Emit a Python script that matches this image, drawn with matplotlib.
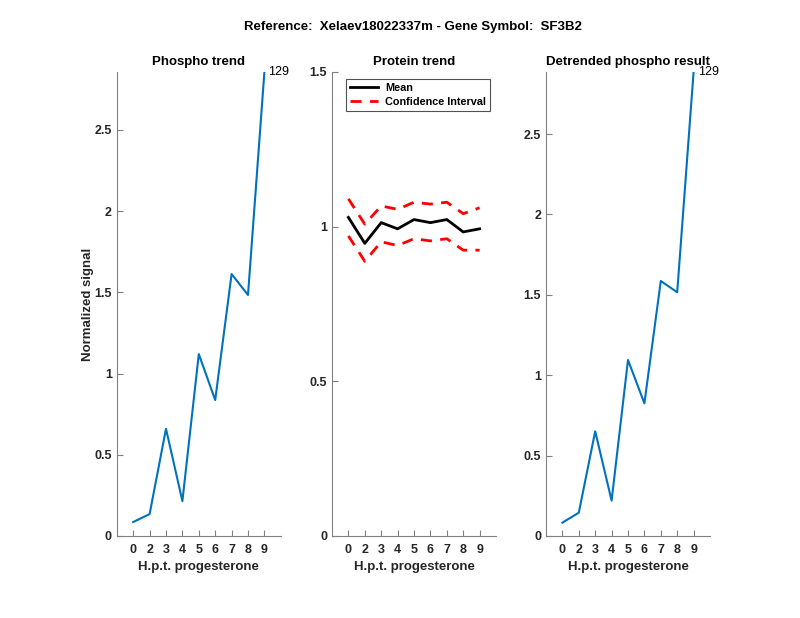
import numpy as np
import matplotlib.pyplot as plt

plt.rcParams['font.family'] = ['Liberation Sans', 'DejaVu Sans']

# time points (categorical positions 1..9)
tick_labels = ['0', '2', '3', '4', '5', '6', '7', '8', '9']
pos = np.arange(1, 10)

phospho = [0.086, 0.135, 0.66, 0.215, 1.12, 0.837, 1.613, 1.484, 2.857]
prot_mean = [1.030, 0.946, 1.013, 0.993, 1.023, 1.013, 1.023, 0.983, 0.993]
prot_upper = [1.090, 1.008, 1.067, 1.056, 1.079, 1.073, 1.079, 1.042, 1.061]
prot_lower = [0.970, 0.888, 0.951, 0.939, 0.961, 0.954, 0.961, 0.924, 0.924]
detrended = [0.083, 0.145, 0.651, 0.220, 1.095, 0.825, 1.586, 1.516, 2.886]

peak_label = '129'
blue = '#0072BD'
axcol = '#262626'

fig = plt.figure(figsize=(8, 6.18), dpi=100)
lefts = [0.146, 0.415, 0.6825]
axes = [fig.add_axes([l, 0.1327, 0.205, 0.7508]) for l in lefts]

for ax in axes:
    ax.spines['top'].set_visible(False)
    ax.spines['right'].set_visible(False)
    for s in ('left', 'bottom'):
        ax.spines[s].set_color('#808080')
    ax.tick_params(direction='in', length=4, colors='#808080', labelcolor=axcol,
                   labelsize=9)
    ax.tick_params(axis='x', pad=6)
    ax.set_xlim(0, 10)
    ax.set_xticks(pos)
    ax.set_xticklabels(tick_labels, fontweight='bold')
    ax.set_xlabel('H.p.t. progesterone', fontsize=9.5, fontweight='bold', color=axcol,
                  labelpad=3.5)

# panel 1
ax = axes[0]
ax.plot(pos, phospho, color=blue, lw=1.5)
ax.set_ylim(0, max(phospho))
ax.set_yticks([0, 0.5, 1, 1.5, 2, 2.5])
ax.set_yticklabels(['0', '0.5', '1', '1.5', '2', '2.5'], fontweight='bold')
ax.set_title('Phospho trend', fontsize=9.5, fontweight='bold', color='black', pad=5)
ax.set_ylabel('Normalized signal', fontsize=9.5, fontweight='bold', color=axcol,
              labelpad=0.5)
ax.text(pos[-1] + 0.25, phospho[-1], peak_label, fontsize=9, va='center', color='black')

# panel 2
ax = axes[1]
ax.plot(pos, prot_mean, color='black', lw=2, label='Mean')
ax.plot(pos, prot_upper, color='red', lw=2, ls=(0, (4, 3)), label='Confidence Interval')
ax.plot(pos, prot_lower, color='red', lw=2, ls=(0, (4, 3)))
ax.set_ylim(0, 1.5)
ax.set_yticks([0, 0.5, 1, 1.5])
ax.set_yticklabels(['0', '0.5', '1', '1.5'], fontweight='bold')
ax.set_title('Protein trend', fontsize=9.5, fontweight='bold', color='black', pad=5)
leg = ax.legend(loc='upper left', bbox_to_anchor=(0.085, 0.985),
                frameon=True, fancybox=False, edgecolor=axcol, handlelength=2.6,
                borderpad=0.4, labelspacing=0.35, handletextpad=0.6,
                borderaxespad=0.0, prop={'weight': 'bold', 'size': 7.8})
leg.get_frame().set_linewidth(0.8)

# panel 3
ax = axes[2]
ax.plot(pos, detrended, color=blue, lw=1.5)
ax.set_ylim(0, max(detrended))
ax.set_yticks([0, 0.5, 1, 1.5, 2, 2.5])
ax.set_yticklabels(['0', '0.5', '1', '1.5', '2', '2.5'], fontweight='bold')
ax.set_title('Detrended phospho result', fontsize=9.5, fontweight='bold', color='black',
             pad=5)
ax.text(pos[-1] + 0.25, detrended[-1], peak_label, fontsize=9, va='center', color='black')

fig.text(0.516, 0.956, 'Reference:  Xelaev18022337m - Gene Symbol:  SF3B2',
         ha='center', va='center', fontsize=9.5, fontweight='bold')

fig.savefig('out.png', dpi=100)
